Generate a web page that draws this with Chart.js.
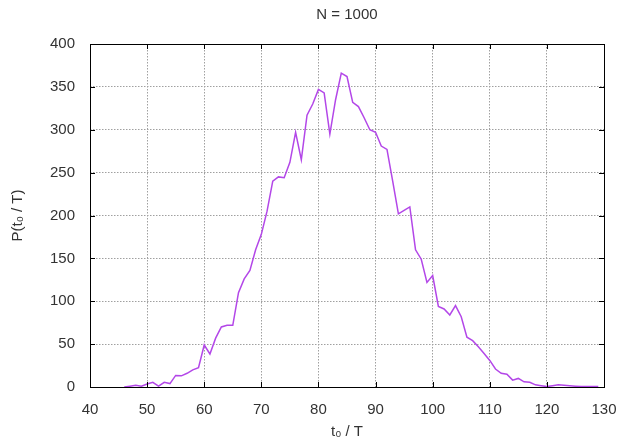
<!DOCTYPE html>
<html>
<head>
<meta charset="utf-8">
<script src="https://cdn.jsdelivr.net/npm/chart.js@4"></script>
<style>
html,body{margin:0;padding:0;background:#fff;}
canvas{display:block;}
</style>
</head>
<body>
<canvas id="c" width="618" height="447"></canvas>
<script>
const titleText = 'N = 1000';
const xTitle = 't\u2080 / T';
const yTitle = 'P(t\u2080 / T)';
const xTicks = [40, 50, 60, 70, 80, 90, 100, 110, 120, 130];
const yTicks = [0, 50, 100, 150, 200, 250, 300, 350, 400];
const tValues = [46,47,48,49,50,51,52,53,54,55,56,57,58,59,60,61,62,63,64,65,66,67,68,69,70,71,72,73,74,75,76,77,78,79,80,81,82,83,84,85,86,87,88,89,90,91,92,93,94,95,96,97,98,99,100,101,102,103,104,105,106,107,108,109,110,111,112,113,114,115,116,117,118,119,120,121,122,123,124,125,126,127,128,129];
const pValues = [0,1,2,1,3.5,5.5,1,5.5,4,13.5,13,16,20,22.5,49,38.5,57,70,72,72,110,126,136,160,178,205,240,245,244,262,297,265,317,330,347,343,295,335,366,362,332,327,314,300,297,281,277,240,202,206,210,160,149,122,130,94,91,84,95,82,58,54,47,39,31,21,16,15,8,10,6,5.5,2.5,1.5,0.5,1.5,2.5,2,1.5,1,0.5,0.5,0.5,0.5];

const points = tValues.map((t, i) => ({x: t, y: pValues[i]}));
const FONT = '"Liberation Sans", Arial, sans-serif';
const TXT = '#333';

const frame = {
  id: 'frame',
  afterDraw(chart) {
    const ctx = chart.ctx, a = chart.chartArea;
    const xs = chart.scales.x, ys = chart.scales.y;
    const L = 5;
    ctx.save();
    ctx.strokeStyle = '#000';
    ctx.lineWidth = 1;
    ctx.beginPath();
    xTicks.forEach(v => {
      const px = Math.round(xs.getPixelForValue(v)) + 0.5;
      ctx.moveTo(px, a.bottom); ctx.lineTo(px, a.bottom - L);
      ctx.moveTo(px, a.top); ctx.lineTo(px, a.top + L);
    });
    yTicks.forEach(v => {
      const py = Math.round(ys.getPixelForValue(v)) + 0.5;
      ctx.moveTo(a.left, py); ctx.lineTo(a.left + L, py);
      ctx.moveTo(a.right, py); ctx.lineTo(a.right - L, py);
    });
    ctx.stroke();
    ctx.strokeRect(Math.round(a.left) + 0.5, Math.round(a.top) + 0.5,
                   Math.round(a.right - a.left), Math.round(a.bottom - a.top));
    ctx.fillStyle = TXT;
    ctx.font = '15px ' + FONT;
    ctx.textAlign = 'center';
    ctx.textBaseline = 'middle';
    ctx.fillText(titleText, (a.left + a.right) / 2, 15);
    ctx.restore();
  }
};

new Chart(document.getElementById('c'), {
  type: 'line',
  data: {
    datasets: [{
      data: points,
      borderColor: '#b347e8',
      borderWidth: 1.5,
      pointRadius: 0,
      tension: 0,
      fill: false
    }]
  },
  options: {
    responsive: false,
    animation: false,
    layout: {padding: {left: 0, right: 14, top: 44, bottom: 0}},
    plugins: {
      legend: {display: false},
      tooltip: {enabled: false},
      title: {display: false}
    },
    scales: {
      x: {
        type: 'linear',
        min: 40, max: 130,
        afterBuildTicks(s) { s.ticks = xTicks.map(v => ({value: v})); },
        afterFit(s) { s.height = 60; s.paddingLeft = 0; s.paddingRight = 0; },
        ticks: {color: TXT, font: {family: FONT, size: 15}, padding: 14, maxRotation: 0, autoSkip: false},
        grid: {color: '#a0a0a0', lineWidth: 1, drawTicks: false},
        border: {display: false, dash: [1.5, 1.5]},
        title: {display: true, text: xTitle, color: TXT, font: {family: FONT, size: 15, lineHeight: 1.2}, padding: {top: 0, bottom: 6}}
      },
      y: {
        type: 'linear',
        min: 0, max: 400,
        afterBuildTicks(s) { s.ticks = yTicks.map(v => ({value: v})); },
        afterFit(s) { s.width = 90; s.paddingTop = 0; s.paddingBottom = 0; },
        ticks: {color: TXT, font: {family: FONT, size: 15}, padding: 15, autoSkip: false},
        grid: {color: '#a0a0a0', lineWidth: 1, drawTicks: false},
        border: {display: false, dash: [1.5, 1.5]},
        title: {display: true, text: yTitle, color: TXT, font: {family: FONT, size: 15, lineHeight: 1.2}, padding: {top: 9, bottom: 0}}
      }
    }
  },
  plugins: [frame]
});
</script>
</body>
</html>
